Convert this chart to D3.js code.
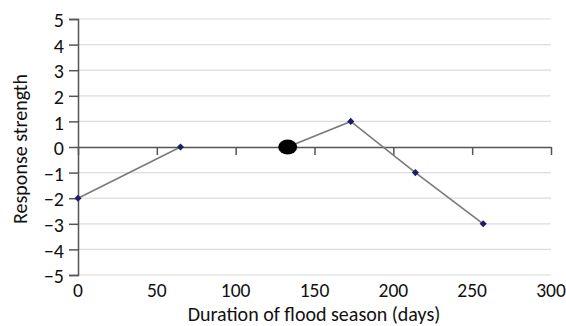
<!DOCTYPE html>
<html>
<head>
<meta charset="utf-8">
<script src="https://cdn.jsdelivr.net/npm/d3@7"></script>
<style>
  body { margin: 0; background: #fff; }
  text { font-family: Carlito, "Open Sans", "DejaVu Sans", sans-serif; fill: #111; }
</style>
</head>
<body>
<div id="chart"></div>
<script>
// Data
const seg1Days = [0, 65];
const seg1Strength = [-2, 0];
const seg2Days = [133, 173, 214, 257];
const seg2Strength = [0, 1, -1, -3];
const xTicks = [0, 50, 100, 150, 200, 250, 300];
const yTicks = [-5, -4, -3, -2, -1, 0, 1, 2, 3, 4, 5];

const margin = {top: 19, right: 15, bottom: 51, left: 78};
const width = 566 - margin.left - margin.right;
const height = 326 - margin.top - margin.bottom;

const svg = d3.select("#chart").append("svg")
    .attr("width", 566)
    .attr("height", 326)
  .append("g")
    .attr("transform", `translate(${margin.left},${margin.top})`);

const x = d3.scaleLinear().domain([0, 300]).range([0, width]);
const y = d3.scaleLinear().domain([-5, 5]).range([height, 0]);

// Gridlines
svg.append("g")
   .selectAll("line")
   .data(yTicks.filter(d => d !== 0))
   .enter().append("line")
   .attr("x1", 0).attr("x2", width)
   .attr("y1", d => y(d)).attr("y2", d => y(d))
   .attr("stroke", "#dcdcdc")
   .attr("stroke-width", 1.2);

// Y axis
const yAxis = svg.append("g")
   .call(d3.axisLeft(y).tickValues(yTicks).tickSize(9)
     .tickFormat(d => d < 0 ? "\u2212" + Math.abs(d) : d));
yAxis.select(".domain").attr("stroke", "#555").attr("stroke-width", 1.5);
yAxis.selectAll(".tick line").attr("stroke", "#555").attr("stroke-width", 1.5);
yAxis.selectAll("text").style("font-size", "20px").attr("x", -14).attr("dy", "0.38em");

// X axis line at zero, ticks going down
const xAxis = svg.append("g")
   .attr("transform", `translate(0,${y(0)})`)
   .call(d3.axisBottom(x).tickValues(xTicks).tickSize(8).tickSizeOuter(0).tickFormat(""));
xAxis.select(".domain").attr("stroke", "#555").attr("stroke-width", 1.5);
xAxis.selectAll(".tick line").attr("stroke", "#555").attr("stroke-width", 1.5);

// X tick labels at the bottom
svg.append("g")
   .selectAll("text")
   .data(xTicks)
   .enter().append("text")
   .attr("x", d => x(d))
   .attr("y", height + 22)
   .style("text-anchor", "middle")
   .style("font-size", "19.5px")
   .text(d => d);

// Axis titles
svg.append("text")
   .attr("x", (180 + 448) / 2 - margin.left)
   .attr("y", height + 46)
   .style("text-anchor", "middle")
   .style("font-size", "20px")
   .text("Duration of flood season (days)");

svg.append("text")
   .attr("transform", "rotate(-90)")
   .attr("x", -y(0) - 2)
   .attr("y", -51)
   .style("text-anchor", "middle")
   .style("font-size", "20px")
   .text("Response strength");

// Lines
const line = d3.line().x(d => x(d[0])).y(d => y(d[1]));
const seg1 = seg1Days.map((d, i) => [d, seg1Strength[i]]);
const seg2 = seg2Days.map((d, i) => [d, seg2Strength[i]]);

[seg1, seg2].forEach(seg => {
  svg.append("path")
     .datum(seg)
     .attr("fill", "none")
     .attr("stroke", "#7a7a7a")
     .attr("stroke-width", 1.6)
     .attr("d", line);
});

// Diamond markers
const diamond = d3.symbol().type(d3.symbolDiamond2).size(32);
svg.selectAll(".pt")
   .data(seg1.concat(seg2.slice(1)))
   .enter().append("path")
   .attr("class", "pt")
   .attr("transform", d => `translate(${x(d[0])},${y(d[1])})`)
   .attr("d", diamond)
   .attr("fill", "#1c1c6b");

// Black ellipse at start of second segment
svg.append("ellipse")
   .attr("cx", x(seg2[0][0]))
   .attr("cy", y(seg2[0][1]))
   .attr("rx", 9.5)
   .attr("ry", 7.5)
   .attr("fill", "#000");
</script>
</body>
</html>
